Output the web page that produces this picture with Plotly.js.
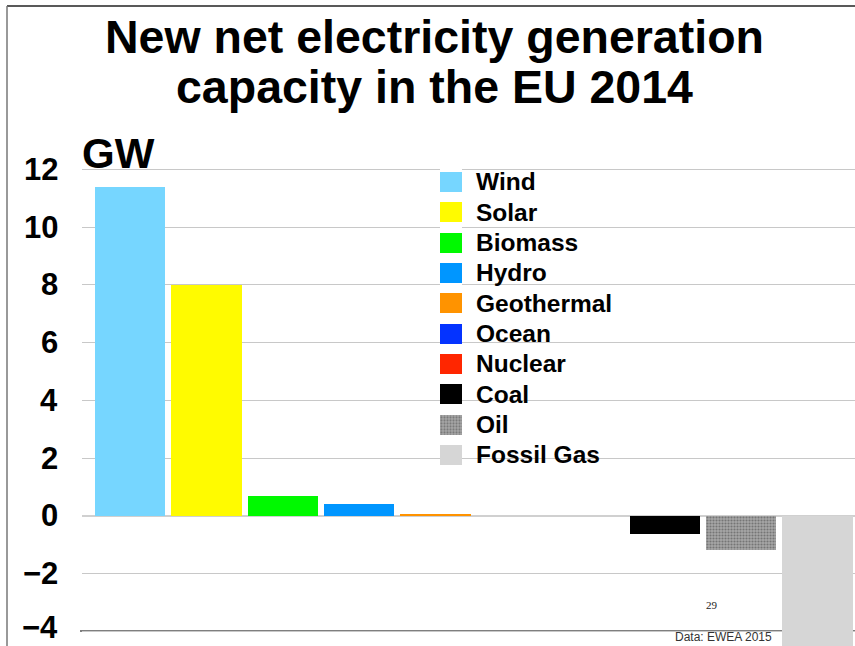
<!DOCTYPE html>
<html>
<head>
<meta charset="utf-8">
<script src="https://cdn.plot.ly/plotly-3.0.1.min.js"></script>
<style>html,body{margin:0;padding:0;background:#fff;}#chart{width:855px;height:646px;}</style>
</head>
<body>
<div id="chart"></div>
<script>
// ---- data ----
var categories = ["Wind", "Solar", "Biomass", "Hydro", "Geothermal", "Ocean", "Nuclear", "Coal", "Oil", "Fossil Gas"];
var valuesGW = [11.4, 8.0, 0.7, 0.4, 0.06, 0, 0, -0.65, -1.2, -5.0];
var barColors = ["#76d6ff", "#fffb00", "#00f900", "#0096ff", "#ff9300", "#0433ff", "#ff2600", "#000000", "#a6a6a6", "#d6d6d6"];
var patternShapes = ["", "", "", "", "", "", "", "", ".", ""];
var yTicks = [-4, -2, 0, 2, 4, 6, 8, 10, 12];
var yTickText = ["\u22124", "\u22122", "0", "2", "4", "6", "8", "10", "12"];
var titleLines = ["New net electricity generation", "capacity in the EU 2014"];
var unitLabel = "GW";
var pageNumber = "29";
var sourceNote = "Data: EWEA 2015";

// ---- geometry helpers (pixel -> paper) ----
var W = 855, H = 646, ML = 82, MR = 0, MT = 150, MB = 0;
var PW = W - ML - MR, PH = H - MT - MB;
function px(x) { return (x - ML) / PW; }
function py(y) { return 1 - (y - MT) / PH; }

var pattern = { shape: patternShapes, fillmode: "overlay", fgcolor: "#7e7e7e", size: 3, solidity: 0.4 };
var FONT = "Liberation Sans, Arial, sans-serif";

var bars = {
  type: "bar",
  x: categories,
  y: valuesGW,
  width: 0.92,
  marker: { color: barColors, line: { width: 0 }, pattern: pattern },
  hoverinfo: "x+y",
  showlegend: false
};

// legend swatches drawn as a small horizontal bar chart on secondary axes
var swatches = {
  type: "bar",
  orientation: "h",
  y: categories,
  x: categories.map(function () { return 1; }),
  xaxis: "x2",
  yaxis: "y2",
  width: 0.66,
  marker: { color: barColors, line: { width: 0 }, pattern: pattern },
  hoverinfo: "skip",
  showlegend: false
};

var annotations = [];
titleLines.forEach(function (t, i) {
  annotations.push({
    text: "<b>" + t + "</b>", xref: "paper", yref: "paper", x: px(434), y: py(37 + i * 50),
    xanchor: "center", yanchor: "middle", showarrow: false,
    font: { family: FONT, size: 46.5, color: "#000" }
  });
});
annotations.push({
  text: "<b>" + unitLabel + "</b>", xref: "paper", yref: "paper", x: px(80), y: py(153),
  xanchor: "left", yanchor: "middle", showarrow: false,
  font: { family: FONT, size: 42, color: "#000" }
});
// y tick labels
yTicks.forEach(function (v, i) {
  annotations.push({
    text: "<b>" + yTickText[i] + "</b>", xref: "paper", yref: "y", x: px(59), y: v,
    xanchor: "right", yanchor: "middle", showarrow: false, borderpad: 0,
    yshift: (i === 0 ? 4 : 0),
    font: { family: FONT, size: 31, color: "#000" }
  });
});
// legend labels
categories.forEach(function (c) {
  annotations.push({
    text: "<b>" + c + "</b>", xref: "x2", yref: "y2", x: 1, y: c, xshift: 12,
    xanchor: "left", yanchor: "middle", showarrow: false,
    font: { family: FONT, size: 24.5, color: "#000" }
  });
});
annotations.push({
  text: pageNumber, xref: "paper", yref: "paper", x: px(712), y: py(605),
  xanchor: "center", yanchor: "middle", showarrow: false,
  font: { family: "Liberation Serif, Times New Roman, serif", size: 11, color: "#222" }
});
annotations.push({
  text: sourceNote, xref: "paper", yref: "paper", x: px(723), y: py(637),
  xanchor: "center", yanchor: "middle", showarrow: false,
  font: { family: FONT, size: 12, color: "#333" }
});

var shapes = [
  // frame: top and left lines
  { type: "line", xref: "paper", yref: "paper", x0: px(7), x1: px(855), y0: py(6), y1: py(6), line: { color: "#222", width: 1.5 } },
  { type: "line", xref: "paper", yref: "paper", x0: px(7), x1: px(7), y0: py(6), y1: py(646), line: { color: "#777", width: 1.5 } },
  // darker bottom axis line at -4
  { type: "line", xref: "paper", yref: "y", x0: px(80), x1: 1, y0: -4, y1: -4, layer: "below", line: { color: "#555", width: 1.5 } }
];

var layout = {
  width: W, height: H,
  margin: { l: ML, r: MR, t: MT, b: MB, pad: 0 },
  paper_bgcolor: "#fff", plot_bgcolor: "#fff",
  bargap: 0,
  showlegend: false,
  xaxis: {
    type: "category", range: [(ML - 130) / 76.4, (W - 130) / 76.4],
    showticklabels: false, showgrid: false, zeroline: false, showline: false, ticks: "", fixedrange: true
  },
  yaxis: {
    range: [-(H - 515.7) / 28.85, (515.7 - MT) / 28.85],
    tickvals: yTicks, ticks: "", showticklabels: false,
    showgrid: true, gridcolor: "#c8c8c8", gridwidth: 1,
    zeroline: true, zerolinecolor: "#d0d0d0", zerolinewidth: 2,
    showline: false
  },
  xaxis2: {
    domain: [px(440), px(462)], range: [0, 1], anchor: "y2",
    showticklabels: false, showgrid: false, zeroline: false, showline: false, ticks: ""
  },
  yaxis2: {
    domain: [py(182 + 9.5 * 30.33), py(182 - 0.5 * 30.33)],
    type: "category", range: [9.5, -0.5], anchor: "x2",
    showticklabels: false, showgrid: false, zeroline: false, showline: false, ticks: ""
  },
  annotations: annotations,
  shapes: shapes
};

Plotly.newPlot("chart", [bars, swatches], layout, { displayModeBar: false, staticPlot: true });
</script>
</body>
</html>
